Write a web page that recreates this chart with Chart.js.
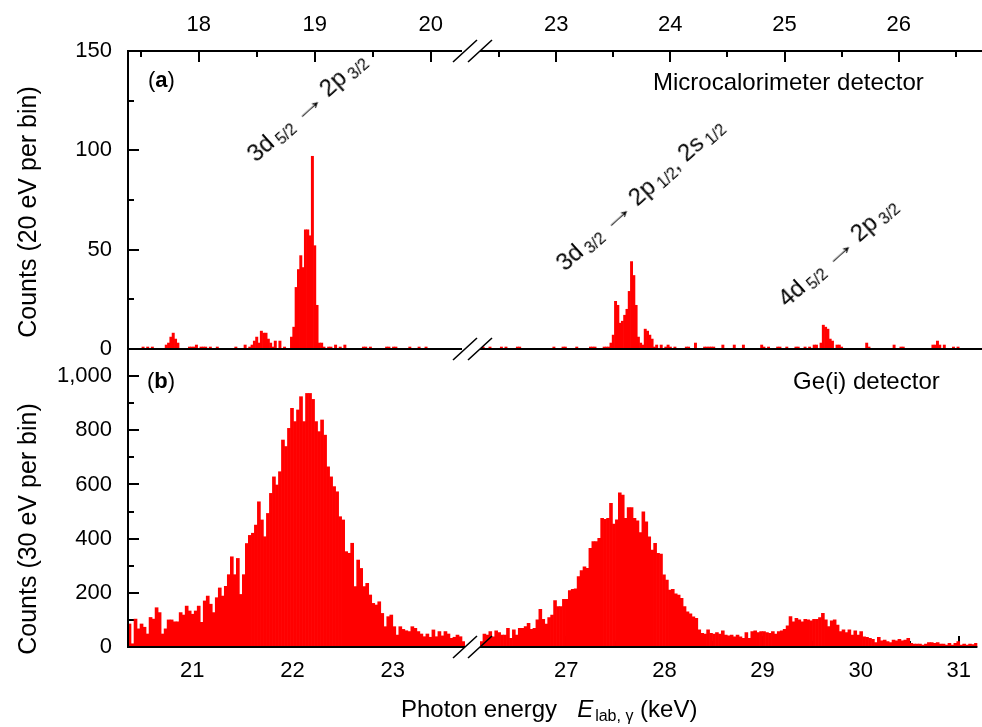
<!DOCTYPE html>
<html>
<head>
<meta charset="utf-8">
<title>Photon energy spectra</title>
<script src="https://cdn.jsdelivr.net/npm/chart.js@4.4.1/dist/chart.umd.min.js"></script>
<style>
  html, body { margin: 0; padding: 0; background: #fff; }
  #wrap { position: relative; width: 982px; height: 727px; overflow: hidden; background: #fff;
          font-family: "Liberation Sans", Arial, sans-serif; color: #000; }
  #wrap canvas { position: absolute; }
  .txt { position: absolute; white-space: nowrap; line-height: 1; }
  .ann { position: absolute; white-space: nowrap; font-size: 24px; line-height: 24px;
         transform-origin: 0 20px; transform: rotate(-42deg); }
  .ann sub { font-size: 16px; vertical-align: -4px; line-height: 0; margin-left: 4px; }
  .ann .arr { display: inline-block; transform: scaleX(1.5); margin: 0 3px 0 4px; }
  .xt sub { font-size: 16px; vertical-align: -4px; line-height: 0; margin-left: 2px; }
  .yt { position: absolute; width: 300px; height: 30px; line-height: 30px; text-align: center;
        font-size: 25px; white-space: nowrap; transform: rotate(-90deg); }
</style>
</head>
<body>
<div id="wrap">
  <canvas id="calLeft" width="462" height="389" style="left:0;top:0"></canvas>
  <canvas id="calRight" width="542" height="389" style="left:440px;top:0"></canvas>
  <canvas id="geLeft" width="465" height="418" style="left:0;top:309px"></canvas>
  <canvas id="geRight" width="542" height="418" style="left:440px;top:309px"></canvas>

  <div class="yt" style="left:-123px;top:197px">Counts (20 eV per bin)</div>
  <div class="yt" style="left:-123px;top:514px">Counts (30 eV per bin)</div>

  <div class="txt" style="left:148px;top:69px;font-size:22px">(<b>a</b>)</div>
  <div class="txt" style="left:653px;top:70px;font-size:24px">Microcalorimeter detector</div>
  <div class="txt" style="left:147px;top:370px;font-size:22px">(<b>b</b>)</div>
  <div class="txt" style="left:793px;top:369px;font-size:24px">Ge(i) detector</div>

  <div class="ann" style="left:256px;top:143px">3d<sub>5/2</sub> <span class="arr">&rarr;</span> 2p<sub>3/2</sub></div>
  <div class="ann" style="left:565px;top:252px">3d<sub>3/2</sub> <span class="arr">&rarr;</span> 2p<sub>1/2</sub>, 2s<sub>1/2</sub></div>
  <div class="ann" style="left:787px;top:288px">4d<sub>5/2</sub> <span class="arr">&rarr;</span> 2p<sub>3/2</sub></div>

  <div class="txt xt" style="left:401px;top:697px;font-size:24px">Photon energy&nbsp;&nbsp; <i>E</i><sub>lab, &gamma;</sub> (keV)</div>
</div>

<script>
// ---- microcalorimeter spectrum, 20 eV bins (keV) ----
var calBin = 0.02;
var calLeftStart = 17.39;
var calRightStart = 22.35;
var calLeftCounts = [
  0, 0, 0, 0, 0, 0, 1, 0, 1, 0, 1, 0,
  0, 0, 0, 0, 2, 3, 6, 8, 5, 3, 0, 0,
  0, 0, 1, 1, 1, 2, 0, 1, 1, 1, 0, 1,
  0, 0, 1, 0, 0, 0, 0, 0, 0, 0, 1, 0,
  0, 0, 2, 0, 1, 2, 4, 6, 3, 9, 8, 8,
  5, 3, 1, 4, 0, 4, 0, 1, 0, 0, 6, 11,
  31, 40, 47, 41, 60, 60, 57, 97, 52, 22, 3, 3,
  1, 0, 1, 1, 0, 2, 0, 1, 0, 2, 0, 0,
  0, 0, 0, 0, 0, 1, 1, 0, 1, 0, 0, 0,
  0, 0, 0, 1, 1, 0, 1, 1, 0, 0, 0, 0,
  0, 1, 0, 0, 0, 1, 0, 0, 1, 0, 0, 0,
  0, 0, 0, 0, 0, 0, 0, 0, 0, 0, 0, 0
];
var calRightCounts = [
  1, 0, 0, 1, 0, 0, 0, 0, 1, 0, 1, 0,
  0, 0, 0, 1, 1, 0, 0, 0, 0, 0, 0, 0,
  0, 0, 0, 0, 0, 0, 0, 1, 0, 0, 0, 1,
  1, 0, 0, 0, 0, 1, 0, 0, 0, 0, 0, 1,
  1, 1, 0, 0, 0, 1, 1, 1, 3, 7, 24, 22,
  13, 14, 17, 20, 29, 44, 37, 22, 6, 3, 2, 10,
  9, 7, 5, 1, 2, 0, 2, 0, 1, 2, 1, 0,
  1, 0, 0, 0, 0, 1, 1, 0, 0, 3, 0, 0,
  0, 1, 1, 1, 1, 1, 0, 0, 0, 2, 0, 0,
  0, 0, 2, 0, 0, 0, 2, 0, 0, 0, 0, 0,
  0, 0, 2, 1, 0, 1, 0, 0, 0, 1, 1, 0,
  0, 1, 0, 0, 0, 1, 1, 0, 0, 1, 0, 1,
  0, 2, 2, 0, 3, 12, 11, 10, 5, 4, 0, 2,
  2, 1, 0, 0, 0, 0, 0, 0, 0, 0, 0, 0,
  3, 1, 0, 0, 0, 0, 0, 0, 0, 0, 0, 0,
  2, 0, 0, 1, 1, 0, 0, 0, 0, 0, 0, 0,
  0, 0, 0, 0, 0, 2, 2, 4, 2, 0, 2, 0,
  0, 0, 1, 0, 1, 0, 0, 0, 0, 0, 0, 0,
  0, 0, 0
];

// ---- Ge(i) spectrum, 30 eV bins (keV) ----
var geBin = 0.03;
var geLeftStart = 20.36;
var geRightStart = 26.12;
var geLeftCounts = [
  85, 12, 103, 67, 85, 73, 48, 109, 103, 145,
  127, 48, 67, 100, 100, 93, 93, 127, 118, 151,
  133, 121, 133, 151, 91, 170, 188, 158, 127, 182,
  218, 188, 224, 267, 333, 267, 327, 194, 267, 382,
  412, 420, 450, 536, 469, 407, 493, 567, 628, 598,
  647, 764, 740, 807, 881, 832, 875, 924, 832, 936,
  936, 914, 832, 795, 838, 782, 665, 628, 592, 573,
  481, 469, 352, 346, 383, 223, 321, 290, 223, 235,
  192, 161, 155, 167, 124, 75, 112, 118, 75, 44,
  75, 65, 60, 57, 75, 69, 57, 48, 38, 48,
  36, 63, 38, 57, 41, 57, 48, 32, 36, 44,
  38, 20
];
var geRightCounts = [
  20, 48, 44, 57, 38, 60, 53, 44, 44, 69,
  32, 63, 44, 69, 69, 75, 87, 65, 69, 100,
  139, 102, 85, 109, 118, 171, 149, 149, 176, 176,
  208, 213, 215, 260, 282, 296, 290, 364, 389, 389,
  401, 475, 471, 475, 530, 454, 469, 569, 561, 475,
  515, 515, 475, 466, 422, 499, 462, 407, 358, 383,
  346, 343, 266, 247, 210, 213, 196, 192, 180, 149,
  130, 122, 111, 106, 63, 50, 48, 63, 50, 48,
  53, 48, 60, 44, 41, 44, 38, 44, 38, 32,
  53, 32, 57, 60, 53, 57, 57, 53, 50, 57,
  48, 57, 60, 65, 78, 112, 93, 106, 100, 93,
  102, 100, 97, 102, 102, 109, 124, 100, 75, 97,
  100, 81, 57, 63, 53, 63, 44, 60, 44, 57,
  38, 36, 32, 28, 16, 36, 23, 26, 20, 16,
  26, 23, 28, 23, 26, 32, 14, 11, 11, 11,
  7, 11, 16, 16, 14, 16, 11, 11, 7, 14,
  7, 14, 20, 7, 11, 7, 11, 9, 14
];

// tick labels
var calTicksLeft = [18, 19, 20];
var calTicksRight = [23, 24, 25, 26];
var geTicksLeft = [21, 22, 23];
var geTicksRight = [27, 28, 29, 30, 31];
var calYTicks = [0, 50, 100, 150];
var geYTicks = [0, 200, 400, 600, 800, 1000];

Chart.defaults.font.family = '"Liberation Sans", Arial, sans-serif';
Chart.defaults.color = '#000';

function binPoints(start, width, counts) {
    return counts.map(function(c, i) {
        return { x: start + width * (i + 0.5), y: c };
    });
}

// axis frame, inward ticks and the axis break marks
var axisDecor = {
    id: 'axisDecor',
    beforeDatasetsDraw: function(chart, args, o) {
        var ctx = chart.ctx, a = chart.chartArea;
        var xs = chart.scales.x, ys = chart.scales.y;
        ctx.save();
        ctx.strokeStyle = '#000';
        ctx.lineWidth = 2;
        ctx.beginPath();
        var edge = o.xSide === 'top' ? a.top : a.bottom;
        var dir = o.xSide === 'top' ? 1 : -1;
        for (var v = Math.ceil(xs.min * 2) / 2; v <= xs.max; v += 0.5) {
            var px = Math.round(xs.getPixelForValue(v));
            var len = (v % 1 === 0) ? 11 : 6;
            ctx.moveTo(px, edge);
            ctx.lineTo(px, edge + dir * len);
        }
        if (o.yMinor) {
            for (var w = 0; w < ys.max; w += o.yMinor) {
                var py = Math.round(ys.getPixelForValue(w));
                var l2 = (w % (2 * o.yMinor) === 0) ? 11 : 6;
                ctx.moveTo(a.left, py);
                ctx.lineTo(a.left + l2, py);
            }
        }
        ctx.stroke();
        ctx.restore();
    },
    afterDatasetsDraw: function(chart, args, o) {
        var ctx = chart.ctx, a = chart.chartArea;
        var x0 = a.left + (o.lineStart || 0);
        ctx.save();
        ctx.strokeStyle = '#000';
        ctx.lineWidth = 2;
        ctx.beginPath();
        if (o.top) { ctx.moveTo(x0, a.top); ctx.lineTo(a.right, a.top); }
        if (o.bottom) { ctx.moveTo(x0, a.bottom); ctx.lineTo(a.right, a.bottom); }
        if (o.left) { ctx.moveTo(a.left, a.top - 1); ctx.lineTo(a.left, a.bottom + 1); }
        ctx.stroke();
        if (o.breaks) {
            var ys = [];
            if (o.top) ys.push(a.top);
            if (o.bottom) ys.push(a.bottom);
            ctx.lineWidth = 1.6;
            ctx.beginPath();
            o.breaks.forEach(function(off) {
                var cx = a.left + off;
                ys.forEach(function(y) {
                    ctx.moveTo(cx - 12, y + 11);
                    ctx.lineTo(cx + 12, y - 11);
                });
            });
            ctx.stroke();
        }
        ctx.restore();
    }
};

function makePanel(id, o) {
    var yAxis = {
        min: 0,
        max: o.yMax,
        display: o.showY,
        grid: { display: false, drawTicks: false },
        border: { display: false },
        ticks: {
            font: { size: 22 },
            padding: 16,
            callback: function(v) { return v.toLocaleString('en-US'); }
        },
        afterBuildTicks: function(s) {
            s.ticks = o.yTicks.map(function(v) { return { value: v }; });
        }
    };
    if (o.showY) {
        yAxis.afterFit = function(s) { s.width = 128; };
    }

    return new Chart(document.getElementById(id), {
        type: 'bar',
        data: {
            datasets: [{
                data: binPoints(o.start, o.bin, o.counts),
                backgroundColor: '#ff0000',
                borderWidth: 0,
                barPercentage: 1,
                categoryPercentage: 1
            }]
        },
        options: {
            responsive: false,
            animation: false,
            events: [],
            layout: { padding: o.pad },
            plugins: {
                legend: { display: false },
                tooltip: { enabled: false },
                axisDecor: o.decor
            },
            scales: {
                x: {
                    type: 'linear',
                    position: o.xPos,
                    min: o.start,
                    max: +(o.start + o.bin * o.counts.length).toFixed(3),
                    offset: false,
                    grid: { display: false, drawTicks: false },
                    border: { display: false },
                    ticks: {
                        font: { size: 22 },
                        padding: o.xPad,
                        maxRotation: 0,
                        autoSkip: false,
                        callback: function(v) { return String(v); }
                    },
                    afterBuildTicks: function(s) {
                        s.ticks = o.xTicks.map(function(v) { return { value: v }; });
                    },
                    afterFit: function(s) { s.height = o.xHeight; }
                },
                y: yAxis
            }
        },
        plugins: [axisDecor]
    });
}

makePanel('calLeft', {
    start: calLeftStart, bin: calBin, counts: calLeftCounts,
    xTicks: calTicksLeft, xPos: 'top', xPad: 13, xHeight: 51,
    yMax: 150, yTicks: calYTicks, showY: true,
    pad: { top: 0, right: 0, bottom: 40, left: 0 },
    decor: { xSide: 'top', yMinor: 25, top: true, bottom: true, left: true }
});
makePanel('calRight', {
    start: calRightStart, bin: calBin, counts: calRightCounts,
    xTicks: calTicksRight, xPos: 'top', xPad: 13, xHeight: 51,
    yMax: 150, yTicks: calYTicks, showY: false,
    pad: { top: 0, right: 0, bottom: 40, left: 42 },
    decor: { xSide: 'top', top: true, bottom: true, lineStart: -2, breaks: [-17, -2] }
});
makePanel('geLeft', {
    start: geLeftStart, bin: geBin, counts: geLeftCounts,
    xTicks: geTicksLeft, xPos: 'bottom', xPad: 11, xHeight: 80,
    yMax: 1100, yTicks: geYTicks, showY: true,
    pad: { top: 40, right: 0, bottom: 0, left: 0 },
    decor: { xSide: 'bottom', yMinor: 100, bottom: true, left: true }
});
makePanel('geRight', {
    start: geRightStart, bin: geBin, counts: geRightCounts,
    xTicks: geTicksRight, xPos: 'bottom', xPad: 11, xHeight: 80,
    yMax: 1100, yTicks: geYTicks, showY: false,
    pad: { top: 40, right: 0, bottom: 0, left: 40 },
    decor: { xSide: 'bottom', bottom: true, lineStart: 0, breaks: [-15, 0] }
});
</script>
</body>
</html>
